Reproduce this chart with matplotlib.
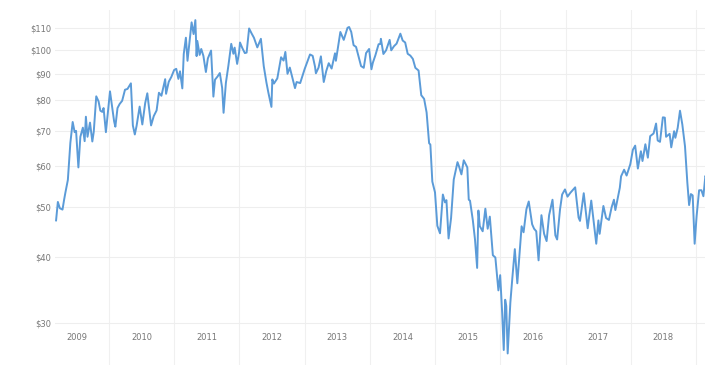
import matplotlib
matplotlib.use("Agg")
import matplotlib.pyplot as plt
import matplotlib.ticker as mticker
import pandas as pd

# WTI crude oil price (USD / barrel)
dates = [
 "2009-03-10","2009-03-20","2009-03-31","2009-04-15","2009-04-24","2009-05-01","2009-05-15","2009-05-29",
 "2009-06-11","2009-06-22","2009-06-30","2009-07-13","2009-07-24","2009-08-07","2009-08-17","2009-08-24",
 "2009-09-02","2009-09-16","2009-09-29","2009-10-07","2009-10-21","2009-11-03","2009-11-13","2009-11-24",
 "2009-12-01","2009-12-14","2009-12-31","2010-01-06","2010-01-29","2010-02-05","2010-02-17","2010-03-01",
 "2010-03-15","2010-03-31","2010-04-14","2010-05-03","2010-05-14","2010-05-25","2010-06-04","2010-06-21",
 "2010-07-06","2010-07-22","2010-08-03","2010-08-24","2010-09-08","2010-09-24","2010-10-07","2010-10-21",
 "2010-11-11","2010-11-16","2010-12-01","2010-12-15","2010-12-31","2011-01-12","2011-01-24","2011-02-02",
 "2011-02-15","2011-02-23","2011-03-07","2011-03-16","2011-04-08","2011-04-19","2011-04-29","2011-05-06",
 "2011-05-10","2011-05-23","2011-06-01","2011-06-13","2011-06-27","2011-07-08","2011-07-26","2011-08-08",
 "2011-08-17","2011-08-31","2011-09-13","2011-09-26","2011-10-04","2011-10-17","2011-10-31","2011-11-16",
 "2011-11-28","2011-12-05","2011-12-19","2011-12-30","2012-01-04","2012-01-17","2012-01-31","2012-02-10",
 "2012-02-24","2012-03-09","2012-03-22","2012-04-10","2012-04-30","2012-05-16","2012-05-31","2012-06-11",
 "2012-06-28","2012-07-03","2012-07-12","2012-07-31","2012-08-21","2012-09-04","2012-09-14","2012-09-26",
 "2012-10-09","2012-10-31","2012-11-07","2012-11-16","2012-12-06","2012-12-31","2013-01-30","2013-02-14",
 "2013-02-27","2013-03-04","2013-03-19","2013-04-01","2013-04-17","2013-05-01","2013-05-15","2013-05-31",
 "2013-06-19","2013-06-24","2013-07-19","2013-08-07","2013-08-28","2013-09-06","2013-09-18","2013-10-01",
 "2013-10-15","2013-10-31","2013-11-12","2013-11-27","2013-12-10","2013-12-27","2014-01-09","2014-01-17",
 "2014-01-31","2014-02-18","2014-02-28","2014-03-03","2014-03-17","2014-04-01","2014-04-21","2014-04-30",
 "2014-05-15","2014-05-30","2014-06-20","2014-07-03","2014-07-17","2014-07-31","2014-08-15","2014-08-29",
 "2014-09-12","2014-09-30","2014-10-15","2014-10-31","2014-11-14","2014-11-28","2014-12-05","2014-12-16",
 "2014-12-31","2015-01-13","2015-01-28","2015-02-13","2015-02-25","2015-03-05","2015-03-17","2015-03-31",
 "2015-04-15","2015-05-06","2015-05-15","2015-05-28","2015-06-10","2015-06-30","2015-07-08","2015-07-15",
 "2015-07-31","2015-08-12","2015-08-24","2015-08-31","2015-09-08","2015-09-24","2015-10-09","2015-10-22",
 "2015-11-03","2015-11-20","2015-12-04","2015-12-21","2015-12-31","2016-01-11","2016-01-20","2016-01-28",
 "2016-02-03","2016-02-11","2016-02-26","2016-03-08","2016-03-22","2016-04-05","2016-04-29","2016-05-10",
 "2016-05-26","2016-06-08","2016-06-27","2016-07-08","2016-07-20","2016-08-02","2016-08-18","2016-09-02",
 "2016-09-16","2016-09-30","2016-10-19","2016-11-04","2016-11-14","2016-11-30","2016-12-12","2016-12-28",
 "2017-01-11","2017-01-27","2017-02-23","2017-03-14","2017-03-22","2017-04-12","2017-05-04","2017-05-24",
 "2017-06-05","2017-06-21","2017-07-03","2017-07-10","2017-07-31","2017-08-15","2017-08-31","2017-09-15",
 "2017-09-28","2017-10-06","2017-10-31","2017-11-07","2017-11-24","2017-12-08","2017-12-29","2018-01-12",
 "2018-01-25","2018-02-09","2018-02-26","2018-03-07","2018-03-23","2018-04-06","2018-04-19","2018-05-08",
 "2018-05-22","2018-05-31","2018-06-13","2018-06-29","2018-07-10","2018-07-17","2018-08-06","2018-08-15",
 "2018-08-31","2018-09-07","2018-09-20","2018-10-03","2018-10-16","2018-10-31","2018-11-13","2018-11-23",
 "2018-12-03","2018-12-13","2018-12-24","2019-01-04","2019-01-18","2019-01-31","2019-02-11","2019-02-22",
 "2019-03-04",
]
prices = [
 47.1, 51.1, 49.7, 49.4, 51.6, 53.2, 56.3, 66.3,
 72.7, 69.5, 69.9, 59.5, 68.1, 70.9, 66.8, 74.4,
 68.1, 72.5, 66.7, 69.6, 81.4, 79.6, 76.4, 76.0,
 77.3, 69.5, 79.4, 83.2, 72.9, 71.2, 77.3, 78.7,
 79.8, 83.8, 84.1, 86.2, 71.6, 68.8, 71.5, 77.8,
 71.9, 79.0, 82.5, 71.6, 74.6, 76.5, 82.7, 81.6,
 87.8, 82.3, 86.8, 88.6, 91.4, 91.9, 87.9, 90.9,
 84.3, 98.1, 105.4, 95.2, 112.8, 107.1, 113.9, 97.2,
 103.9, 97.7, 100.3, 97.3, 90.6, 96.2, 99.6, 81.3,
 87.6, 88.8, 90.2, 84.5, 75.7, 86.4, 93.2, 102.6,
 98.2, 100.9, 93.9, 98.8, 103.2, 100.7, 98.5, 98.7,
 109.8, 107.4, 105.4, 101.0, 104.9, 93.0, 86.5, 82.7,
 77.7, 87.7, 86.1, 88.1, 96.7, 95.3, 99.0, 89.9,
 92.4, 86.2, 84.4, 86.7, 86.3, 91.8, 97.9, 97.3,
 92.8, 90.1, 92.4, 97.1, 86.7, 91.0, 94.2, 92.0,
 98.4, 95.2, 108.1, 104.4, 110.1, 110.5, 108.1, 102.0,
 101.2, 96.4, 93.0, 92.3, 98.5, 100.3, 91.7, 94.4,
 97.5, 102.4, 102.6, 104.9, 98.1, 99.7, 104.4, 99.7,
 101.5, 102.7, 107.3, 104.1, 103.2, 98.2, 97.4, 96.0,
 92.3, 91.2, 81.8, 80.5, 75.8, 66.2, 65.8, 55.9,
 53.3, 46.0, 44.5, 52.8, 51.0, 51.5, 43.5, 47.6,
 56.4, 60.9, 59.7, 57.7, 61.4, 59.5, 51.6, 51.4,
 47.1, 43.3, 38.2, 49.2, 45.9, 44.9, 49.6, 45.4,
 47.9, 40.4, 40.0, 34.6, 37.0, 31.4, 26.6, 33.2,
 32.3, 26.2, 32.8, 36.5, 41.5, 35.7, 45.9, 44.7,
 49.5, 51.2, 46.3, 45.4, 44.9, 39.5, 48.2, 44.4,
 43.0, 48.2, 51.6, 44.1, 43.3, 49.4, 52.8, 54.0,
 52.3, 53.2, 54.5, 47.7, 47.0, 53.1, 45.5, 51.4,
 47.4, 42.5, 47.1, 44.4, 50.2, 47.6, 47.2, 49.9,
 51.6, 49.3, 54.4, 57.2, 58.9, 57.4, 60.4, 64.3,
 65.5, 59.2, 63.9, 61.2, 65.9, 62.1, 68.3, 69.1,
 72.2, 67.0, 66.6, 74.2, 74.1, 68.1, 69.0, 65.0,
 69.8, 67.8, 70.8, 76.4, 71.9, 65.3, 55.7, 50.4,
 52.9, 52.6, 42.5, 48.0, 53.8, 53.8, 52.4, 57.3,
 56.6,
]
y_ticks = [30, 40, 50, 60, 70, 80, 90, 100, 110]
y_tick_labels = ["$30", "$40", "$50", "$60", "$70", "$80", "$90", "$100", "$110"]
years = [2009, 2010, 2011, 2012, 2013, 2014, 2015, 2016, 2017, 2018]

x = pd.to_datetime(dates)

W, H = 705, 376
fig = plt.figure(figsize=(W / 100, H / 100), dpi=100)
fig.patch.set_facecolor("white")
ax = fig.add_axes([55 / W, (H - 365) / H, 650 / W, 355 / H])
ax.set_facecolor("white")

ax.plot(x, prices, color="#5b9bd8", lw=1.4, solid_joinstyle="round", zorder=3)

ax.set_yscale("log")
ax.yaxis.set_major_locator(mticker.FixedLocator(y_ticks))
ax.yaxis.set_major_formatter(mticker.FixedFormatter(y_tick_labels))
ax.yaxis.set_minor_locator(mticker.NullLocator())

mid = [pd.Timestamp(f"{y}-07-02") for y in years]
ax.set_xticks(mid)
ax.set_xticklabels([str(y) for y in years])
starts = [pd.Timestamp(f"{y}-01-01") for y in years + [2019]]
ax.set_xticks(starts, minor=True)

ax.set_ylim(24.9, 119.1)
ax.set_xlim(pd.Timestamp("2009-03-04"), pd.Timestamp("2019-02-20"))

ax.tick_params(axis="y", length=0, pad=2.5, labelsize=6, labelcolor="#777777")
ax.tick_params(axis="x", which="major", length=0, pad=-23, labelsize=6, labelcolor="#777777")
ax.tick_params(axis="x", which="minor", length=0)

ax.grid(True, axis="y", which="major", color="#eeeeee", lw=0.8, zorder=0)
ax.grid(True, axis="x", which="minor", color="#f0f0f0", lw=0.8, zorder=0)
ax.grid(False, axis="x", which="major")

for s in ax.spines.values():
    s.set_visible(False)

fig.savefig("out.png", dpi=100, facecolor="white")
